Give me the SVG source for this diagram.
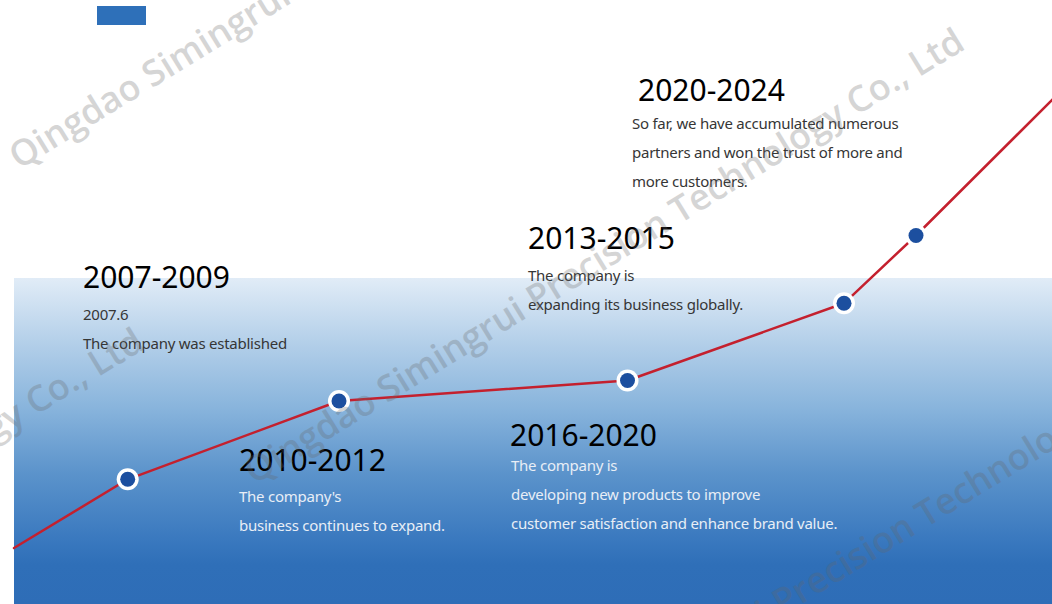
<svg xmlns="http://www.w3.org/2000/svg" width="1052" height="604" viewBox="0 0 1052 604">
<defs>
<linearGradient id="band" x1="0" y1="0" x2="0" y2="1">
<stop offset="0" stop-color="#e1ecf7"/>
<stop offset="0.2" stop-color="#b3cfe9"/>
<stop offset="0.4" stop-color="#88b4dc"/>
<stop offset="0.6" stop-color="#5b93cb"/>
<stop offset="0.8" stop-color="#3a79bf"/>
<stop offset="0.88" stop-color="#2f6fb8"/>
<stop offset="1" stop-color="#2e6db7"/>
</linearGradient>
<style>
.year{font-family:"Noto Sans","Open Sans",sans-serif;font-size:30px;fill:#000}
.body{font-family:"Noto Sans","Open Sans",sans-serif;font-size:15px;letter-spacing:-0.25px}
.dark{fill:#363636}
.light{fill:#e8eef6}
.ring{fill:#fff}
.dot{fill:#1c4f9f}
.conn{stroke:#c4202e;stroke-width:2.5;fill:none;stroke-linecap:round}
.wm{font-family:"Open Sans","Noto Sans",sans-serif;font-weight:600;font-size:36px;fill:#666;opacity:0.27}
</style>
</defs>
<rect width="1052" height="604" fill="#fff"/>
<rect x="97" y="6" width="49" height="19" fill="#2e70b9"/>
<rect x="14" y="278" width="1038" height="326" fill="url(#band)"/>

<g id="connectors">
<line class="conn" x1="14" y1="548" x2="127.7" y2="479.3"/>
<line class="conn" x1="127.7" y1="479.3" x2="339" y2="401"/>
<line class="conn" x1="339" y1="401" x2="627.5" y2="380.5"/>
<line class="conn" x1="627.5" y1="380.5" x2="844" y2="303.3"/>
<line class="conn" x1="844" y1="303.3" x2="916" y2="235.5"/>
<line class="conn" x1="916" y1="235.5" x2="1053" y2="99"/>
</g>

<g id="node-2007-2009">
<circle class="ring" cx="127.7" cy="479.3" r="11"/>
<circle class="dot" cx="127.7" cy="479.3" r="7.5"/>
<text class="year" x="83" y="288">2007-2009</text>
<text class="body dark" x="83" y="320">2007.6</text>
<text class="body dark" x="83" y="349">The company was established</text>
</g>

<g id="node-2010-2012">
<circle class="ring" cx="339" cy="401" r="11"/>
<circle class="dot" cx="339" cy="401" r="7.5"/>
<text class="year" x="239" y="471">2010-2012</text>
<text class="body light" x="239" y="502">The company's</text>
<text class="body light" x="239" y="531">business continues to expand.</text>
</g>

<g id="node-2016-2020">
<circle class="ring" cx="627.5" cy="380.5" r="11"/>
<circle class="dot" cx="627.5" cy="380.5" r="7.5"/>
<text class="year" x="510" y="446">2016-2020</text>
<text class="body light" x="511" y="471">The company is</text>
<text class="body light" x="511" y="500">developing new products to improve</text>
<text class="body light" x="511" y="529">customer satisfaction and enhance brand value.</text>
</g>

<g id="node-2013-2015">
<circle class="ring" cx="844" cy="303.3" r="11"/>
<circle class="dot" cx="844" cy="303.3" r="7.5"/>
<text class="year" x="528" y="249">2013-2015</text>
<text class="body dark" x="528" y="281">The company is</text>
<text class="body dark" x="528" y="310">expanding its business globally.</text>
</g>

<g id="node-2020-2024">
<circle class="ring" cx="916" cy="235.5" r="11"/>
<circle class="dot" cx="916" cy="235.5" r="7.5"/>
<text class="year" x="638" y="101">2020-2024</text>
<text class="body dark" x="632" y="129">So far, we have accumulated numerous</text>
<text class="body dark" x="632" y="158">partners and won the trust of more and</text>
<text class="body dark" x="632" y="187">more customers.</text>
</g>

<g id="watermark">
<text class="wm" transform="translate(19,170) rotate(-31.5)">Qingdao Simingrui Precision Technology Co., Ltd</text>
<text class="wm" transform="translate(254,485) rotate(-31.5)">Qingdao Simingrui Precision Technology Co., Ltd</text>
<text class="wm" transform="translate(500,789) rotate(-31.5)">Qingdao Simingrui Precision Technology Co., Ltd</text>
<text class="wm" text-anchor="end" transform="translate(146,348) rotate(-31.5)">Qingdao Simingrui Precision Technology Co., Ltd</text>
</g>
</svg>
